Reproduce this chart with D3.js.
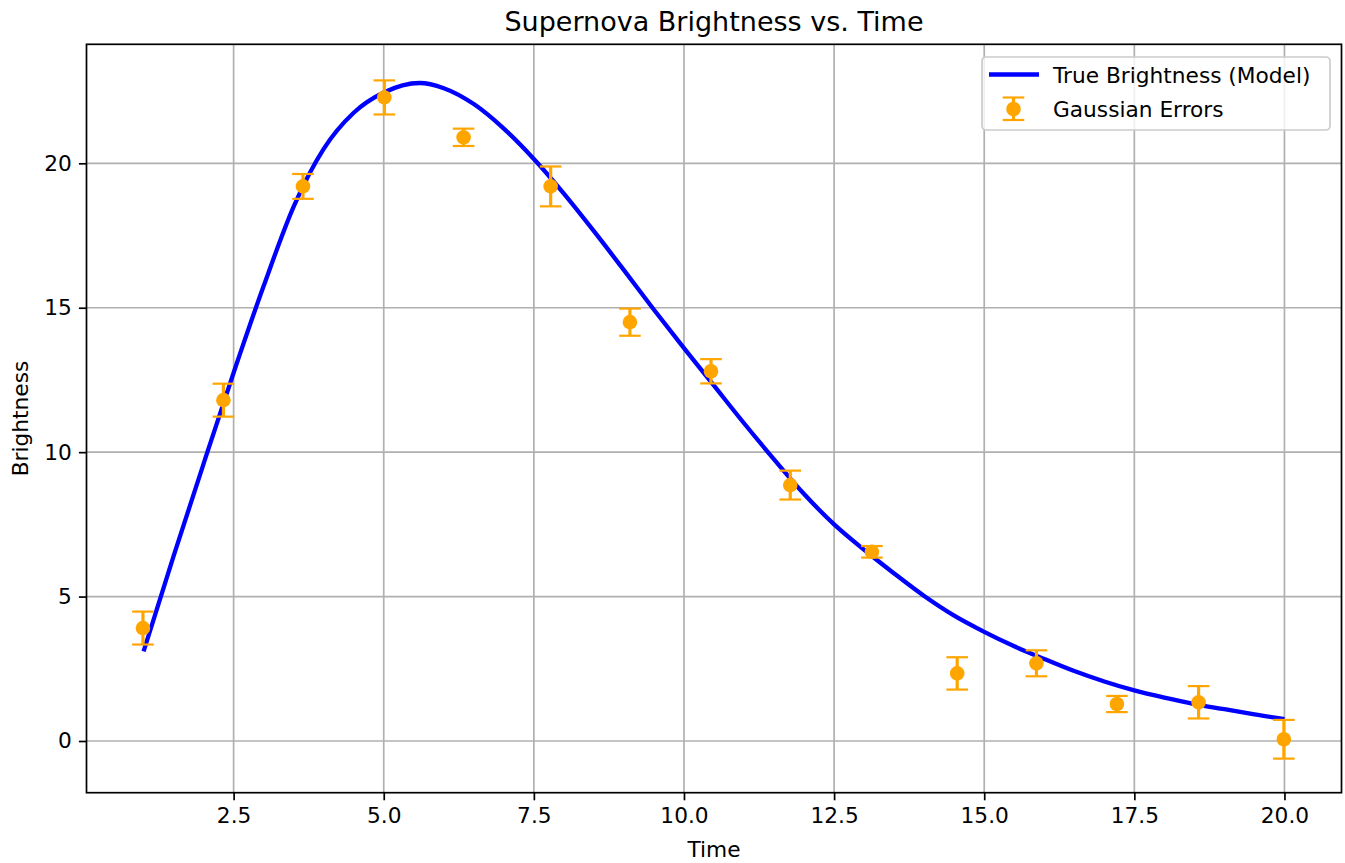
<!DOCTYPE html>
<html>
<head>
<meta charset="utf-8">
<script src="https://cdn.jsdelivr.net/npm/d3@7"></script>
<style>
  body { margin: 0; background: #fff; }
  text { font-family: "DejaVu Sans", sans-serif; fill: #000; }
</style>
</head>
<body>
<div id="chart"></div>
<script>
"use strict";

/*** Data */
/* observed points */
const obsTime = [0.99, 2.33, 3.655, 5.01, 6.33, 7.78, 9.10, 10.45, 11.77, 13.13, 14.55, 15.87, 17.21, 18.57, 19.99];
const obsBrightness = [3.91, 11.8, 19.2, 22.28, 20.9, 19.2, 14.5, 12.8, 8.86, 6.55, 2.34, 2.69, 1.28, 1.34, 0.06];
const obsError = [0.57, 0.57, 0.43, 0.59, 0.3, 0.69, 0.47, 0.42, 0.5, 0.2, 0.56, 0.45, 0.28, 0.56, 0.67];

/* model curve */
const modelTime = [1.0, 1.5, 2.0, 2.5, 3.0, 3.5, 4.0, 4.5, 5.0, 5.6, 6.0, 6.5, 7.0, 7.5, 8.0, 8.5, 9.0, 9.5, 10.0, 10.5, 11.0, 11.5, 12.0, 12.5, 13.0, 13.5, 14.0, 14.5, 15.0, 15.5, 16.0, 16.5, 17.0, 17.5, 18.0, 18.5, 19.0, 19.5, 20.0];
const modelBrightness = [3.1, 6.4, 9.6, 12.75, 15.75, 18.5, 20.5, 21.75, 22.45, 22.78, 22.6, 22.05, 21.2, 20.15, 18.95, 17.65, 16.3, 14.93, 13.6, 12.3, 11.0, 9.75, 8.55, 7.5, 6.62, 5.8, 5.02, 4.34, 3.78, 3.28, 2.84, 2.42, 2.06, 1.75, 1.5, 1.28, 1.1, 0.92, 0.76];

/* ticks */
const xTicks = [2.5, 5.0, 7.5, 10.0, 12.5, 15.0, 17.5, 20.0];
const yTicks = [0, 5, 10, 15, 20];

const seriesNames = ["True Brightness (Model)", "Gaussian Errors"];

/*** Layout */
const w = 1345;
const h = 863;
const plotL = 86.5, plotR = 1341.5, plotT = 44.3, plotB = 792.7;
const fs = 21.7;

const svg = d3.select("#chart")
    .append("svg")
    .attr("width", w)
    .attr("height", h);

const x = d3.scaleLinear().domain([0.05, 20.95]).range([plotL, plotR]);
const y = d3.scaleLinear().domain([-1.79, 24.12]).range([plotB, plotT]);

/** grid */
svg.append("g")
    .selectAll("line")
    .data(xTicks)
    .enter()
    .append("line")
    .attr("x1", d => x(d)).attr("x2", d => x(d))
    .attr("y1", plotT).attr("y2", plotB)
    .attr("stroke", "#b0b0b0").attr("stroke-width", 1.7);

svg.append("g")
    .selectAll("line")
    .data(yTicks)
    .enter()
    .append("line")
    .attr("x1", plotL).attr("x2", plotR)
    .attr("y1", d => y(d)).attr("y2", d => y(d))
    .attr("stroke", "#b0b0b0").attr("stroke-width", 1.7);

/** model line */
const line = d3.line()
    .x((d, i) => x(modelTime[i]))
    .y(d => y(d))
    .curve(d3.curveMonotoneX);

svg.append("path")
    .datum(modelBrightness)
    .attr("d", line)
    .attr("fill", "none")
    .attr("stroke", "#0000ff")
    .attr("stroke-width", 4.3);

/** error bars */
const cap = 10.8;
const eb = svg.append("g")
    .selectAll("g")
    .data(obsTime)
    .enter()
    .append("g");

eb.append("line")
    .attr("x1", d => x(d)).attr("x2", d => x(d))
    .attr("y1", (d, i) => y(obsBrightness[i] - obsError[i]))
    .attr("y2", (d, i) => y(obsBrightness[i] + obsError[i]))
    .attr("stroke", "orange").attr("stroke-width", 3.2);

[-1, 1].forEach(s => {
    eb.append("line")
        .attr("x1", d => x(d) - cap).attr("x2", d => x(d) + cap)
        .attr("y1", (d, i) => y(obsBrightness[i] + s * obsError[i]))
        .attr("y2", (d, i) => y(obsBrightness[i] + s * obsError[i]))
        .attr("stroke", "orange").attr("stroke-width", 2.2);
});

eb.append("circle")
    .attr("cx", d => x(d))
    .attr("cy", (d, i) => y(obsBrightness[i]))
    .attr("r", 7.3)
    .attr("fill", "orange");

/** axes frame */
svg.append("rect")
    .attr("x", plotL).attr("y", plotT)
    .attr("width", plotR - plotL).attr("height", plotB - plotT)
    .attr("fill", "none").attr("stroke", "#000").attr("stroke-width", 1.7);

/** x axis */
const xAxis = d3.axisBottom(x)
    .tickValues(xTicks)
    .tickFormat(d3.format(".1f"))
    .tickSize(7.6)
    .tickPadding(7);

svg.append("g")
    .attr("transform", "translate(0," + plotB + ")")
    .call(xAxis)
    .call(g => g.select(".domain").remove())
    .call(g => g.selectAll("line").attr("stroke-width", 1.7))
    .call(g => g.selectAll("text").attr("font-size", fs).attr("font-family", "DejaVu Sans").attr("fill", "#000"));

/** y axis */
const yAxis = d3.axisLeft(y)
    .tickValues(yTicks)
    .tickFormat(d3.format("d"))
    .tickSize(7.6)
    .tickPadding(7);

svg.append("g")
    .attr("transform", "translate(" + plotL + ",0)")
    .call(yAxis)
    .call(g => g.select(".domain").remove())
    .call(g => g.selectAll("line").attr("stroke-width", 1.7))
    .call(g => g.selectAll("text").attr("font-size", fs).attr("font-family", "DejaVu Sans").attr("fill", "#000"));

/** labels */
svg.append("text")
    .attr("x", (plotL + plotR) / 2).attr("y", 31)
    .attr("text-anchor", "middle")
    .attr("font-size", 27)
    .text("Supernova Brightness vs. Time");

svg.append("text")
    .attr("x", (plotL + plotR) / 2).attr("y", 857)
    .attr("text-anchor", "middle")
    .attr("font-size", fs)
    .text("Time");

svg.append("text")
    .attr("transform", "translate(28," + (plotT + plotB) / 2 + ") rotate(-90)")
    .attr("text-anchor", "middle")
    .attr("font-size", fs)
    .text("Brightness");

/** legend */
const lg = svg.append("g").attr("transform", "translate(982,57)");
lg.append("rect")
    .attr("width", 348).attr("height", 73)
    .attr("rx", 4).attr("ry", 4)
    .attr("fill", "#fff").attr("fill-opacity", 0.8)
    .attr("stroke", "#cccccc").attr("stroke-width", 1.7);

lg.append("line")
    .attr("x1", 7).attr("x2", 57).attr("y1", 17.5).attr("y2", 17.5)
    .attr("stroke", "#0000ff").attr("stroke-width", 4.3);

lg.append("line")
    .attr("x1", 31.5).attr("x2", 31.5).attr("y1", 40.5).attr("y2", 63)
    .attr("stroke", "orange").attr("stroke-width", 3.2);
[40.5, 63].forEach(cy => {
    lg.append("line")
        .attr("x1", 31.5 - cap).attr("x2", 31.5 + cap).attr("y1", cy).attr("y2", cy)
        .attr("stroke", "orange").attr("stroke-width", 2.2);
});
lg.append("circle").attr("cx", 31.5).attr("cy", 52).attr("r", 7.3).attr("fill", "orange");

lg.selectAll("text.lab")
    .data(seriesNames)
    .enter()
    .append("text")
    .attr("class", "lab")
    .attr("x", 71)
    .attr("y", (d, i) => 18 + i * 34.5)
    .attr("dy", "0.35em")
    .attr("font-size", fs)
    .attr("fill", "#333")
    .text(d => d);
</script>
</body>
</html>
